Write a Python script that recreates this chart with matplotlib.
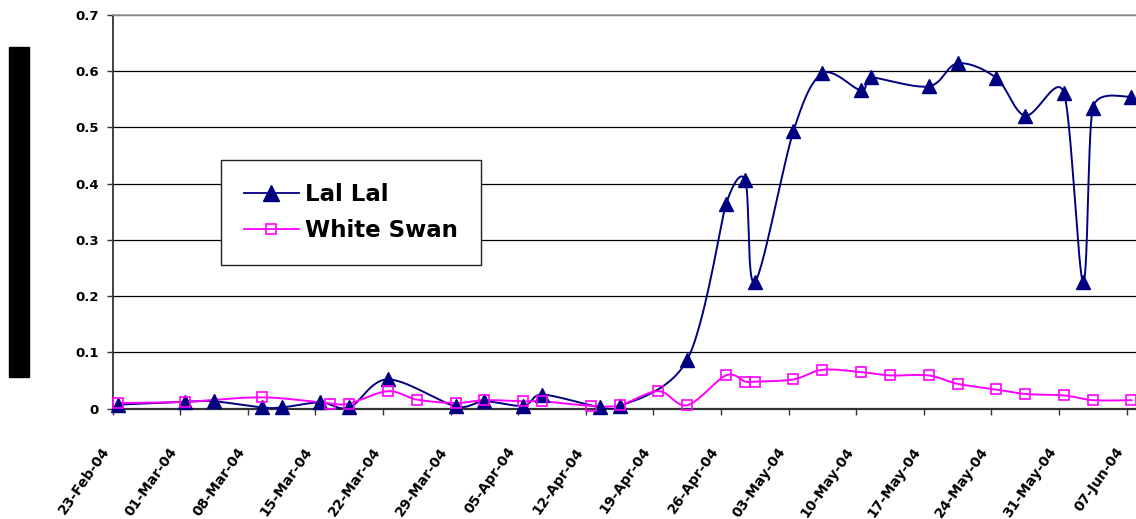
import numpy as np
import matplotlib
matplotlib.use("Agg")
import matplotlib.pyplot as plt
import matplotlib.dates as mdates
from matplotlib.patches import Rectangle
import datetime as dt

# ---------------- data ----------------
lal_dates = ["2004-02-23", "2004-03-01", "2004-03-04", "2004-03-09", "2004-03-11",
             "2004-03-15", "2004-03-18", "2004-03-22", "2004-03-29", "2004-04-01",
             "2004-04-05", "2004-04-07", "2004-04-13", "2004-04-15", "2004-04-22",
             "2004-04-26", "2004-04-28", "2004-04-29", "2004-05-03", "2004-05-06",
             "2004-05-10", "2004-05-11", "2004-05-17", "2004-05-20", "2004-05-24",
             "2004-05-27", "2004-05-31", "2004-06-02", "2004-06-03", "2004-06-07"]
lal_values = [0.007, 0.012, 0.013, 0.002, 0.002,
              0.011, 0.002, 0.052, 0.004, 0.013,
              0.005, 0.025, 0.002, 0.004, 0.087,
              0.363, 0.406, 0.225, 0.494, 0.596,
              0.566, 0.589, 0.573, 0.614, 0.588,
              0.521, 0.562, 0.225, 0.535, 0.555]

swan_dates = ["2004-02-23", "2004-03-01", "2004-03-09", "2004-03-16", "2004-03-18",
              "2004-03-22", "2004-03-25", "2004-03-29", "2004-04-01", "2004-04-05",
              "2004-04-07", "2004-04-12", "2004-04-15", "2004-04-19", "2004-04-22",
              "2004-04-26", "2004-04-28", "2004-04-29", "2004-05-03", "2004-05-06",
              "2004-05-10", "2004-05-13", "2004-05-17", "2004-05-20", "2004-05-24",
              "2004-05-27", "2004-05-31", "2004-06-03", "2004-06-07"]
swan_values = [0.010, 0.012, 0.020, 0.009, 0.009,
               0.031, 0.016, 0.010, 0.015, 0.013,
               0.013, 0.005, 0.006, 0.031, 0.006,
               0.059, 0.048, 0.048, 0.052, 0.069,
               0.065, 0.059, 0.059, 0.044, 0.034,
               0.026, 0.0235, 0.015, 0.015]

series_names = ["Lal Lal", "White Swan"]
y_ticks = [0, 0.1, 0.2, 0.3, 0.4, 0.5, 0.6, 0.7]
y_tick_labels = ["0", "0.1", "0.2", "0.3", "0.4", "0.5", "0.6", "0.7"]
x_start = "2004-02-23"
x_end = "2004-06-08"


def to_num(dates):
    # Excel places a date point at the middle of its day
    return mdates.date2num([dt.datetime.fromisoformat(d) for d in dates]) + 0.5


def smooth(ax, x, y, n=30):
    """Excel-like smoothed line: Bezier segments, tangents capped in screen space."""
    pts = ax.transData.transform(np.column_stack([x, y]))
    P = np.vstack([pts[0], pts, pts[-1]])
    out = []
    t = np.linspace(0, 1, n)[:, None]

    def tangent(pm, p, pp):
        v = (pp - pm) / 6.0
        L = np.hypot(*v)
        cap = min(np.hypot(*(p - pm)) if np.any(p != pm) else np.inf,
                  np.hypot(*(pp - p)) if np.any(pp != p) else np.inf) / 2.0
        if L > cap and L > 0:
            v = v * cap / L
        return v

    for i in range(1, len(P) - 2):
        p0, p1, p2, p3 = P[i - 1], P[i], P[i + 1], P[i + 2]
        c1 = p1 + tangent(p0, p1, p2)
        c2 = p2 - tangent(p1, p2, p3)
        seg = ((1 - t) ** 3) * p1 + 3 * ((1 - t) ** 2) * t * c1 + 3 * (1 - t) * t ** 2 * c2 + t ** 3 * p2
        out.append(seg if i == 1 else seg[1:])
    s = ax.transData.inverted().transform(np.vstack(out))
    return s[:, 0], s[:, 1]


plt.rcParams['font.family'] = ['DejaVu Sans']

fig = plt.figure(figsize=(11.36, 5.19), dpi=100)
ax = fig.add_axes([112.7 / 1136, 1 - 408.6 / 519, 1 - 112.7 / 1136, (408.6 - 15) / 519])

navy = "#000080"
magenta = "#FF00FF"

x0 = mdates.date2num(dt.datetime.fromisoformat(x_start))
x1 = mdates.date2num(dt.datetime.fromisoformat(x_end))
ax.set_xlim(x0, x1 - 0.03)
ax.set_ylim(0, 0.7)

xl = to_num(lal_dates)
xs = to_num(swan_dates)

sx, sy = smooth(ax, xl, np.array(lal_values))
ax.plot(sx, sy, color=navy, lw=1.4, zorder=3)
ax.plot(xl, lal_values, ls='none', marker='^', ms=10, color=navy, mec=navy, zorder=4, clip_on=False)

wx, wy = smooth(ax, xs, np.array(swan_values))
ax.plot(wx, wy, color=magenta, lw=1.4, zorder=3)
ax.plot(xs, swan_values, ls='none', marker='s', ms=7, mfc='none', mec=magenta, mew=1.2, zorder=4,
        clip_on=False)

# legend proxies
h1, = ax.plot([], [], color=navy, lw=1.3, marker='^', ms=11, mec=navy)
h2, = ax.plot([], [], color=magenta, lw=1.3, marker='s', ms=7.5, mfc='none', mec=magenta, mew=1.2)
leg = ax.legend([h1, h2], series_names, loc='upper left',
                bbox_to_anchor=((220.7 - 112.7) / 1023.3, (408.6 - 159.7) / 393.6),
                prop={'weight': 'bold', 'size': 16.5}, frameon=True, fancybox=False,
                borderpad=1.0, handlelength=2.4, handletextpad=0.3, labelspacing=0.6,
                borderaxespad=0.0, framealpha=1)
leg.get_frame().set_edgecolor('#222222')
leg.get_frame().set_linewidth(1.0)
leg.set_zorder(6)

ax.set_yticks(y_ticks)
ax.set_yticklabels(y_tick_labels, fontsize=9.5, fontweight='bold')
ax.yaxis.grid(True, color='black', lw=0.9)
ax.set_axisbelow(True)

tick_dates = mdates.drange(dt.datetime.fromisoformat(x_start), dt.datetime.fromisoformat(x_end), dt.timedelta(days=7))
ax.set_xticks(tick_dates)
ax.xaxis.set_major_formatter(mdates.DateFormatter('%d-%b-%y'))
for lbl in ax.get_xticklabels():
    lbl.set_rotation(55)
    lbl.set_ha('right')
    lbl.set_va('top')
    lbl.set_fontsize(10)
    lbl.set_fontweight('bold')

ax.tick_params(axis='x', length=4, width=1, pad=22, color='#333333')
ax.tick_params(axis='y', length=4, width=1, pad=6, color='#333333')

ax.spines['right'].set_visible(False)
ax.spines['top'].set_color('#a0a0a0')
ax.spines['top'].set_linewidth(1.2)
ax.spines['left'].set_color('#333333')
ax.spines['left'].set_linewidth(1.3)
ax.spines['bottom'].set_color('#333333')
ax.spines['bottom'].set_linewidth(1.6)

# unreadable (blacked-out) y-axis title block
fig.patches.append(Rectangle((9 / 1136, 1 - 377 / 519), 20 / 1136, 330 / 519,
                             transform=fig.transFigure, color='black', zorder=1))

fig.savefig("out.png", dpi=100)
